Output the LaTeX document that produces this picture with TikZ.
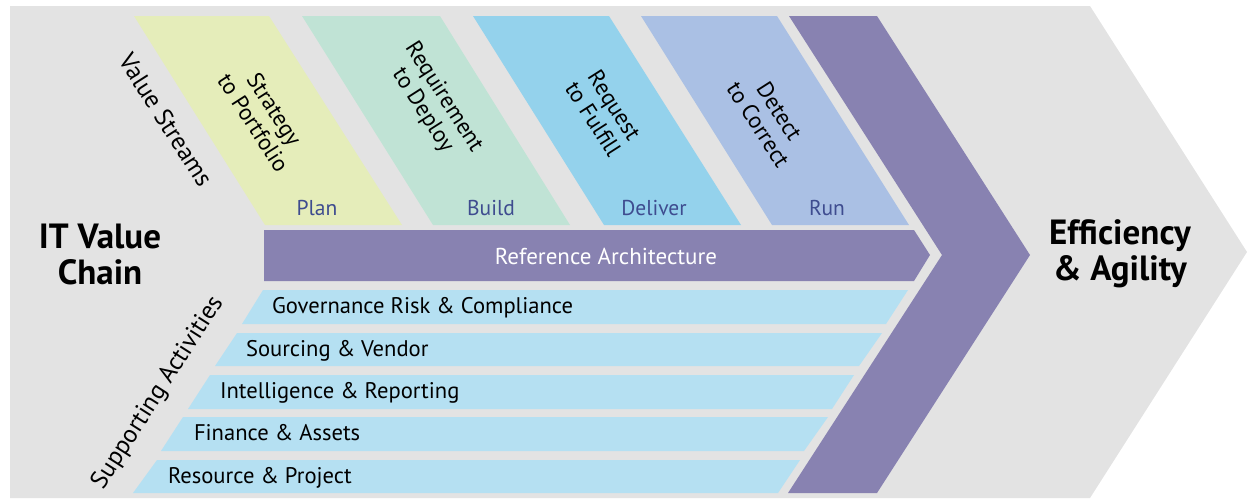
\documentclass[tikz,border=0pt]{standalone}
\usepackage{fontspec}
\setmainfont{PT Sans}
\definecolor{bggray}{HTML}{E3E3E3}
\definecolor{cplan}{HTML}{E5EDBA}
\definecolor{cbuild}{HTML}{C0E3D5}
\definecolor{cdeliver}{HTML}{94D2EC}
\definecolor{crun}{HTML}{AAC0E4}
\definecolor{cpurple}{HTML}{8882B1}
\definecolor{crow}{HTML}{B5E0F2}
\definecolor{clabel}{HTML}{3E4C8F}
\begin{document}
\begin{tikzpicture}[x=1pt,y=-1pt,
  every node/.style={inner sep=0pt, outer sep=0pt},
  coltext/.style={font=\fontsize{23}{25}\selectfont, align=center, rotate=-57.4, text=black},
  phase/.style={font=\fontsize{21.5}{24}\selectfont, text=clabel, anchor=base},
  rowtext/.style={font=\fontsize{22.6}{26}\selectfont, text=black, anchor=base west},
  sidetext/.style={font=\fontsize{25}{28}\selectfont, text=black},
  bigtext/.style={font=\bfseries\fontsize{35}{36}\selectfont, align=center, text=black}]
\useasboundingbox (0,0) rectangle (1247,499);
% background arrow
\fill[bggray] (10,6) -- (1090,6) -- (1247,252) -- (1090,498) -- (10,498) -- cycle;
% value stream columns
\fill[cplan]    (134,16) -- (269,16) -- (402,225) -- (265,225) -- cycle;
\fill[cbuild]   (302,16) -- (440,16) -- (570,225) -- (433,225) -- cycle;
\fill[cdeliver] (473,16) -- (609,16) -- (741,225) -- (604,225) -- cycle;
\fill[crun]     (641,16) -- (777,16) -- (909,225) -- (772,225) -- cycle;
% purple chevron
\fill[cpurple] (789,16) -- (877,16) -- (1030,255) -- (877,493) -- (788,493) -- (942,255) -- cycle;
% reference architecture
\fill[cpurple] (264,230) -- (914,230) -- (930,255) -- (914,281) -- (264,281) -- cycle;
% supporting rows
\fill[crow] (263,290) -- (908,290) -- (886,324) -- (242,324) -- cycle;
\fill[crow] (237,333) -- (882,333) -- (859,366) -- (215,366) -- cycle;
\fill[crow] (210,375) -- (854,375) -- (832,409) -- (188,409) -- cycle;
\fill[crow] (183,417) -- (828,417) -- (804,451) -- (161,451) -- cycle;
\fill[crow] (157,460) -- (800,460) -- (778,493) -- (133,493) -- cycle;
% column texts
\node[coltext] (s2p) at (264,116) {Strategy\\to Portfolio};
\node[coltext] (r2d) at (433,104) {Requirement\\to Deploy};
\node[coltext] (r2f) at (604,112) {Request\\to Fulfill};
\node[coltext] (d2c) at (769,118) {Detect\\to Correct};
% phase labels
\node[phase] (plan) at (317,215) {Plan};
\node[phase] (build) at (491,215) {Build};
\node[phase] (deliver) at (654,215) {Deliver};
\node[phase] (run) at (827,215) {Run};
% side labels
\node[sidetext, rotate=-57.4] (vs) at (166,120) {Value Streams};
\node[sidetext, rotate=57.4] (sa) at (158,393) {Supporting Activities};
% reference architecture label
\node[font=\fontsize{23}{26}\selectfont, text=white] (ra) at (606,256) {Reference Architecture};
% row labels
\node[rowtext] (grc) at (272,313.5) {Governance Risk \& Compliance};
\node[rowtext] (sv)  at (246,356) {Sourcing \& Vendor};
\node[rowtext] (ir)  at (220,398.5) {Intelligence \& Reporting};
\node[rowtext] (fa)  at (194,440.5) {Finance \& Assets};
\node[rowtext] (rp)  at (168,483) {Resource \& Project};
% big titles
\node[bigtext] (itvc) at (100,254) {IT Value\\Chain};
\node[bigtext] (ea) at (1120,254) {Efficiency\\\& Agility};
\end{tikzpicture}
\end{document}
